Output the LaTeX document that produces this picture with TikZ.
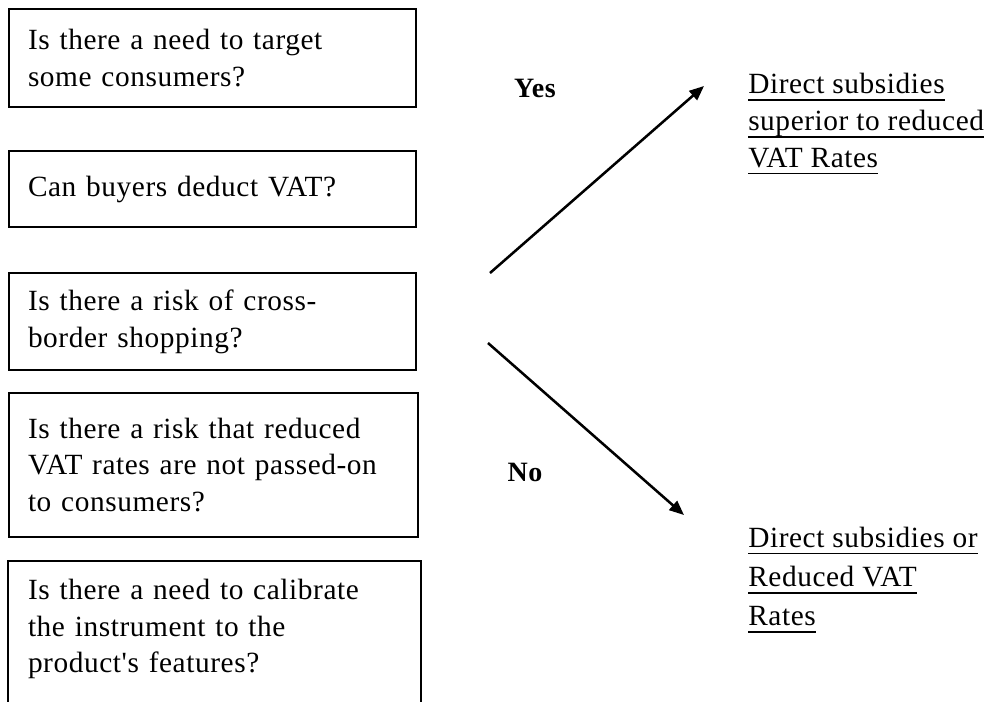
\documentclass[tikz,border=0pt]{standalone}
\usepackage{fontspec}
\setmainfont{Liberation Serif}[Ligatures=TeXOff,LetterSpace=2]
\newcommand{\myul}[1]{\setbox0\hbox{#1}\vtop{\copy0\kern-\dp0\kern4pt\hrule height 1.4pt}}
\usetikzlibrary{arrows.meta}
\begin{document}
\begin{tikzpicture}[x=0.75pt,y=-0.75pt,
  boxline/.style={line width=1.5pt},
  qbox/.style={draw, boxline, anchor=north west, align=left, text width=277pt,
    inner xsep=14.25pt, inner ysep=0pt, font=\fontsize{22}{27.5}\selectfont},
  ans/.style={anchor=west, align=left, inner sep=0pt, font=\fontsize{22}{27.5}\selectfont},
  lbl/.style={inner sep=0pt, font=\fontsize{21}{25}\selectfont\bfseries},
  arr/.style={line width=1.9pt, -{Triangle[length=11pt,width=9pt]}}]
\clip (0,0) rectangle (999,701);
\useasboundingbox (0,0) rectangle (999,701);
\node[qbox, minimum height=73.5pt] (q1) at (8,8) {Is there a need to target\\some consumers?};
\node[qbox, minimum height=57pt] (q2) at (8,150) {Can buyers deduct VAT?};
\node[qbox, minimum height=72.75pt] (q3) at (8,272) {Is there a risk of cross-\\border shopping?};
\node[qbox, minimum height=108pt, text width=278pt] (q4) at (8,392) {Is there a risk that reduced\\VAT rates are not passed-on\\to consumers?};
\node[qbox, draw=none, minimum height=100.5pt, text width=280pt] (q5) at (8,561) {Is there a need to calibrate\\the instrument to the\\product's features?};
\draw[boxline] (q5.north west) ++(0,160) -- (q5.north west) -- (q5.north east) -- ++(0,160);
\node[ans] (r1) at (748,124) {\myul{Direct subsidies}\\\myul{superior to reduced}\\\myul{VAT Rates}};
\node[ans] (r2) at (748,580) {\myul{Direct subsidies or}\\[2pt]\myul{Reduced VAT}\\[2pt]\myul{Rates}};
\node[lbl] (yes) at (535,88) {Yes};
\node[lbl] (no) at (525,472) {No};
\coordinate (ys) at (490,273);
\coordinate (ye) at (704,86);
\coordinate (ns) at (488,343);
\coordinate (ne) at (684,515);
\draw[arr] (ys) -- (ye);
\draw[arr] (ns) -- (ne);
\end{tikzpicture}
\end{document}
